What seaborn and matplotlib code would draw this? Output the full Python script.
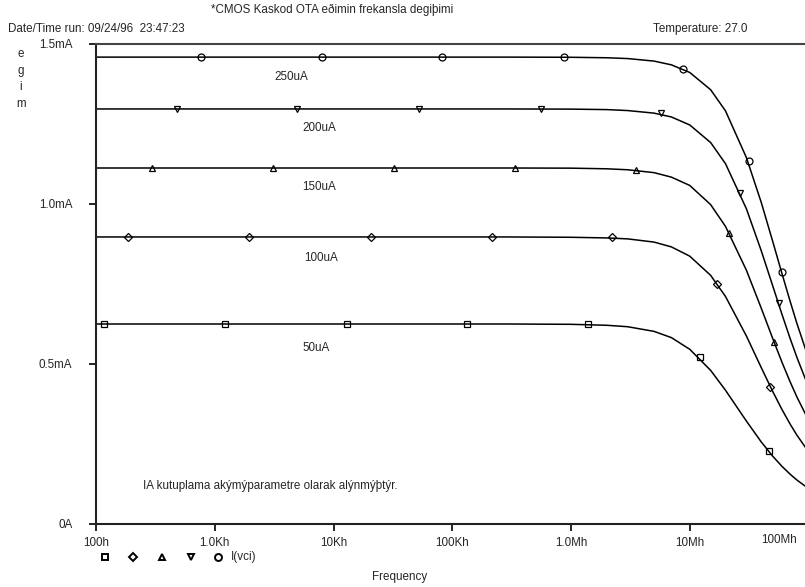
import numpy as np
import pandas as pd
import matplotlib
matplotlib.use("Agg")
import matplotlib.pyplot as plt
import seaborn as sns
from matplotlib.ticker import FixedLocator, FixedFormatter

# --- data (current in mA, frequency in Hz) ---
freq = [1e2, 1e3, 1e4, 1e5, 3e5, 1e6, 2e6, 3e6, 5e6, 7e6, 1e7,
        1.5e7, 2e7, 3e7, 4e7, 5e7, 6e7, 7e7, 8e7, 1e8]

i_50 = [0.625, 0.625, 0.625, 0.625, 0.625, 0.624, 0.621, 0.6165, 0.602, 0.5825,
        0.546, 0.480, 0.418, 0.3216, 0.2565, 0.2117, 0.1796, 0.1557, 0.1372, 0.1107]
i_100 = [0.897, 0.897, 0.897, 0.897, 0.897, 0.896, 0.894, 0.891, 0.881, 0.866,
         0.837, 0.777, 0.711, 0.5875, 0.4888, 0.4139, 0.3567, 0.3123, 0.2772, 0.2258]
i_150 = [1.1125, 1.1125, 1.1125, 1.1125, 1.1125, 1.112, 1.110, 1.107, 1.098, 1.084,
         1.058, 0.998, 0.930, 0.793, 0.6746, 0.5794, 0.5042, 0.4444, 0.3964, 0.3245]
i_200 = [1.297, 1.297, 1.297, 1.297, 1.297, 1.2965, 1.295, 1.292, 1.284, 1.272,
         1.247, 1.192, 1.126, 0.985, 0.854, 0.744, 0.6535, 0.580, 0.520, 0.4284]
i_250 = [1.459, 1.459, 1.459, 1.459, 1.459, 1.4585, 1.457, 1.4545, 1.4466, 1.4349,
         1.411, 1.357, 1.291, 1.145, 1.005, 0.8827, 0.7806, 0.6961, 0.626, 0.5183]

# marker points (PSpice symbols)
mk_f_50 = [117, 1.23e3, 1.29e4, 1.32e5, 1.39e6, 1.23e7, 4.69e7]
mk_i_50 = [0.625, 0.625, 0.625, 0.625, 0.624, 0.522, 0.228]
mk_f_100 = [186, 1.95e3, 2.05e4, 2.15e5, 2.22e6, 1.71e7, 4.78e7]
mk_i_100 = [0.897, 0.897, 0.897, 0.897, 0.896, 0.750, 0.428]
mk_f_150 = [297, 3.12e3, 3.21e4, 3.37e5, 3.54e6, 2.15e7, 5.16e7]
mk_i_150 = [1.1125, 1.1125, 1.1125, 1.1125, 1.106, 0.909, 0.569]
mk_f_200 = [483, 4.97e3, 5.21e4, 5.58e5, 5.74e6, 2.67e7, 5.59e7]
mk_i_200 = [1.297, 1.297, 1.297, 1.297, 1.284, 1.034, 0.691]
mk_f_250 = [769, 7.93e3, 8.15e4, 8.73e5, 8.8e6, 3.18e7, 6.04e7]
mk_i_250 = [1.459, 1.459, 1.459, 1.459, 1.422, 1.134, 0.788]

series = ["50uA", "100uA", "150uA", "200uA", "250uA"]
markers = ["s", "D", "^", "v", "o"]

x_ticks = [1e2, 1e3, 1e4, 1e5, 1e6, 1e7]
x_labels = ["100h", "1.0Kh", "10Kh", "100Kh", "1.0Mh", "10Mh"]
y_ticks = [0, 0.5, 1.0, 1.5]
y_labels = ["0A", "0.5mA", "1.0mA", "1.5mA"]

# label anchors for curve names
lab_f = [5.47e3, 5.69e3, 5.47e3, 5.47e3, 3.18e3]
lab_i = [0.55, 0.831, 1.053, 1.2375, 1.397]

df = pd.DataFrame({
    "f": freq * 5,
    "I": i_50 + i_100 + i_150 + i_200 + i_250,
    "ib": np.repeat(series, len(freq)),
})
mk_f = [mk_f_50, mk_f_100, mk_f_150, mk_f_200, mk_f_250]
mk_i = [mk_i_50, mk_i_100, mk_i_150, mk_i_200, mk_i_250]

FS = 8.4
sns.set_style("white")
plt.rcParams["font.family"] = ["Liberation Sans", "DejaVu Sans"]
plt.rcParams["font.size"] = FS

fig = plt.figure(figsize=(8.05, 5.87), dpi=100)
ax = fig.add_axes([96 / 805, 1 - 524 / 587, (808.5 - 96) / 805, (524 - 44) / 587])

sns.lineplot(data=df, x="f", y="I", hue="ib", palette=["black"] * 5,
             estimator=None, sort=False, linewidth=1.1, legend=False, ax=ax)
for fx, iy, m in zip(mk_f, mk_i, markers):
    ax.plot(fx, iy, linestyle="none", marker=m, ms=5 if m != "D" else 4,
            mfc="none", mec="black", mew=0.9)

for name, fx, iy in zip(series, lab_f, lab_i):
    ax.text(fx, iy, name, fontsize=FS, ha="left", va="center")

ax.set_xscale("log")
ax.set_xlim(1e2, 1e8)
ax.set_ylim(0, 1.5)
ax.xaxis.set_major_locator(FixedLocator(x_ticks))
ax.xaxis.set_major_formatter(FixedFormatter(x_labels))
ax.xaxis.set_minor_locator(FixedLocator([]))
ax.yaxis.set_major_locator(FixedLocator(y_ticks))
ax.yaxis.set_major_formatter(FixedFormatter(y_labels))
ax.tick_params(axis="both", direction="out", length=5, width=1.2, color="black",
               labelsize=FS, bottom=True, left=True)
ax.tick_params(axis="x", pad=4)
ax.tick_params(axis="y", pad=12)
ax.set_xlabel("")
ax.set_ylabel("")

for s in ["left", "bottom", "top"]:
    ax.spines[s].set_visible(True)
    ax.spines[s].set_linewidth(1.5)
    ax.spines[s].set_color("#222222")
ax.spines["top"].set_color("#444444")
ax.spines["right"].set_visible(False)

# header / footer texts
fig.text(332 / 805, 1 - 10 / 587, "*CMOS Kaskod OTA eðimin frekansla degiþimi",
         ha="center", va="center", fontsize=FS)
fig.text(8 / 805, 1 - 29 / 587, "Date/Time run: 09/24/96  23:47:23",
         ha="left", va="center", fontsize=FS)
fig.text(653 / 805, 1 - 29 / 587, "Temperature: 27.0",
         ha="left", va="center", fontsize=FS)
fig.text(21 / 805, 1 - 79 / 587, "e\ng\ni\nm", ha="center", va="center",
         fontsize=FS, linespacing=1.55)
fig.text(797 / 805, 1 - 540 / 587, "100Mh", ha="right", va="center", fontsize=FS)
fig.text(143 / 805, 1 - 486 / 587,
         "IA kutuplama akýmýparametre olarak alýnmýþtýr.",
         ha="left", va="center", fontsize=FS)
fig.text(400 / 805, 1 - 577 / 587, "Frequency", ha="center", va="center", fontsize=FS)

# symbol row under the axis
for xp, m in zip([105, 133, 162, 191, 218], markers):
    fig.add_artist(plt.Line2D([xp / 805], [1 - 557 / 587], marker=m,
                              ms=5 if m != "D" else 4, mfc="none", mec="black",
                              mew=1.4, linestyle="none"))
fig.text(231 / 805, 1 - 557 / 587, "I(vci)", ha="left", va="center", fontsize=FS)

fig.savefig("out.png", dpi=100)
